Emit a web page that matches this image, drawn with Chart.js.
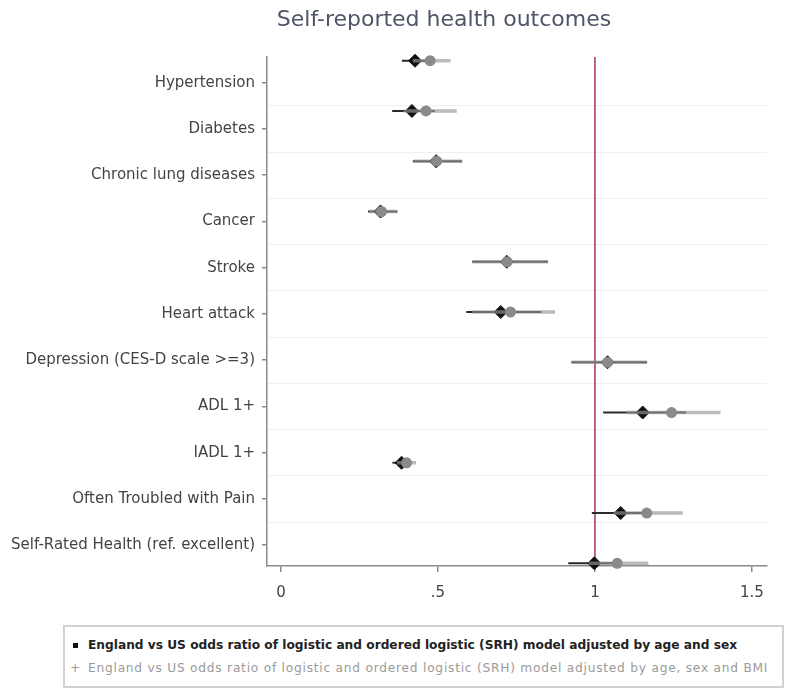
<!DOCTYPE html>
<html>
<head>
<meta charset="utf-8">
<script src="https://cdn.jsdelivr.net/npm/chart.js@4/dist/chart.umd.min.js"></script>
<style>
  html, body { margin: 0; padding: 0; background: #fff; }
  #wrap { position: relative; width: 785px; height: 693px; overflow: hidden; }
  #legend {
    position: absolute; left: 63px; top: 625px; width: 721px; height: 63px;
    box-sizing: border-box; border: 2px solid #d2d2d2; background: #fff;
    font-family: "DejaVu Sans", sans-serif; font-size: 12.2px;
  }
  .row { position: absolute; left: 0; white-space: nowrap; line-height: 14px; }
  .row1 { top: 11px; font-weight: bold; color: #222; }
  .row2 { top: 34px; color: #9a9a9a; letter-spacing: 0.77px; }
  .mk { display: inline-block; width: 20px; text-align: center; margin-left: 0px; margin-right: 3px; letter-spacing: 0; }
  .sq { display: inline-block; width: 5px; height: 5px; background: #111; vertical-align: middle; }
</style>
</head>
<body>
<div id="wrap">
  <canvas id="c"></canvas>
  <div id="legend">
    <div class="row row1"><span class="mk"><span class="sq"></span></span>England vs US odds ratio of logistic and ordered logistic (SRH) model adjusted by age and sex</div>
    <div class="row row2"><span class="mk">+</span>England vs US odds ratio of logistic and ordered logistic (SRH) model adjusted by age, sex and BMI</div>
  </div>
</div>
<script>
const categories = [
  'Hypertension', 'Diabetes', 'Chronic lung diseases', 'Cancer', 'Stroke',
  'Heart attack', 'Depression (CES-D scale >=3)', 'ADL 1+', 'IADL 1+',
  'Often Troubled with Pain', 'Self-Rated Health (ref. excellent)'
];
// Model adjusted by age and sex
const orAgeSex  = [0.427, 0.417, 0.494, 0.317, 0.719, 0.700, 1.040, 1.152, 0.384, 1.082, 0.998];
const loAgeSex  = [0.385, 0.354, 0.420, 0.277, 0.609, 0.590, 0.925, 1.026, 0.355, 0.990, 0.915];
const hiAgeSex  = [0.475, 0.490, 0.577, 0.370, 0.850, 0.830, 1.166, 1.290, 0.415, 1.180, 1.085];
// Model adjusted by age, sex and BMI
const orAgeSexBmi = [0.475, 0.462, 0.496, 0.320, 0.720, 0.731, 1.040, 1.244, 0.400, 1.165, 1.071];
const loAgeSexBmi = [0.420, 0.390, 0.422, 0.280, 0.610, 0.610, 0.925, 1.100, 0.370, 1.060, 0.980];
const hiAgeSexBmi = [0.540, 0.560, 0.577, 0.372, 0.850, 0.873, 1.166, 1.400, 0.430, 1.280, 1.170];
const xTickValues = [0, 0.5, 1, 1.5];
const xTickLabels = ['0', '.5', '1', '1.5'];
const referenceValue = 1;

const FONT = '"DejaVu Sans", sans-serif';
const rowPos = categories.map((c, i) => i + 1);

function ciSegments(lo, hi) {
  const out = [];
  rowPos.forEach((p, i) => {
    out.push({ x: lo[i], y: p }, { x: hi[i], y: p }, { x: null, y: null });
  });
  return out;
}
function points(v) { return rowPos.map((p, i) => ({ x: v[i], y: p })); }

const PT_MIN = 0.926, PT_MAX = 11.054;   // point rows scale
const LB_MIN = 0.444, LB_MAX = 11.45;    // label rows scale

new Chart(document.getElementById('c'), {
  type: 'scatter',
  data: {
    datasets: [
      {
        type: 'line', label: 'ref', order: 6, yAxisID: 'yp',
        data: [{ x: referenceValue, y: PT_MIN }, { x: referenceValue, y: PT_MAX }],
        borderColor: '#a8344a', borderWidth: 1.5, pointRadius: 0, clip: false
      },
      {
        type: 'line', label: 'ciA', order: 5, yAxisID: 'yp',
        data: ciSegments(loAgeSex, hiAgeSex), spanGaps: false,
        borderColor: '#2a2a2a', borderWidth: 2, pointRadius: 0, clip: false
      },
      {
        label: 'A', order: 4, yAxisID: 'yp', data: points(orAgeSex),
        pointStyle: 'rectRot', pointRadius: 6.5, backgroundColor: '#111', borderColor: '#111',
        borderWidth: 1, clip: false
      },
      {
        type: 'line', label: 'ciB', order: 3, yAxisID: 'yp',
        data: ciSegments(loAgeSexBmi, hiAgeSexBmi), spanGaps: false,
        borderColor: 'rgba(150,150,150,0.65)', borderWidth: 3.5, pointRadius: 0, clip: false
      },
      {
        label: 'B', order: 2, yAxisID: 'yp', data: points(orAgeSexBmi),
        pointStyle: 'circle', pointRadius: 5.5, backgroundColor: '#8a8a8a', borderColor: '#8a8a8a',
        borderWidth: 0, clip: false
      }
    ]
  },
  options: {
    responsive: true, maintainAspectRatio: false, animation: false, events: [],
    // negative right padding widens the full-size title box so the title centres where the reference has it
    layout: { padding: { left: 0, right: -103, top: 0, bottom: 87 } },
    plugins: {
      legend: { display: false }, tooltip: { enabled: false },
      title: {
        display: true, text: 'Self-reported health outcomes', color: '#4f5568',
        font: { family: FONT, size: 22, weight: 'normal' },
        padding: { top: 7, bottom: 23.6 }
      }
    },
    scales: {
      x: {
        type: 'linear', position: 'bottom', min: -0.0446, max: 1.548,
        afterBuildTicks: s => { s.ticks = xTickValues.map(v => ({ value: v })); },
        afterFit: s => { s.height = 40; },
        ticks: {
          callback: v => xTickLabels[xTickValues.indexOf(v)],
          color: '#444', font: { family: FONT, size: 15 }, padding: 12, maxRotation: 0
        },
        grid: { drawOnChartArea: false, tickLength: 6, color: '#8a8a8a', lineWidth: 1.5 },
        border: { color: '#8a8a8a', width: 1.5 }
      },
      yl: {
        type: 'linear', position: 'left', reverse: true, min: LB_MIN, max: LB_MAX,
        afterBuildTicks: s => { s.ticks = rowPos.map(v => ({ value: v })); },
        afterFit: s => { s.width = 267; },
        ticks: {
          callback: v => categories[v - 1], autoSkip: false,
          color: '#444', font: { family: FONT, size: 15 }, padding: 7
        },
        grid: { drawOnChartArea: false, tickLength: 5, color: '#8a8a8a', lineWidth: 1.5 },
        border: { color: '#8a8a8a', width: 1.5 }
      },
      yg: {
        type: 'linear', position: 'right', reverse: true, min: LB_MIN, max: LB_MAX,
        afterBuildTicks: s => { s.ticks = rowPos.slice(0, -1).map(v => ({ value: v + 0.5 })); },
        afterFit: s => { s.width = 121; },
        ticks: { display: false },
        grid: { drawTicks: false, color: '#efefef', lineWidth: 1 },
        border: { display: false }
      },
      yp: {
        type: 'linear', display: false, reverse: true, min: PT_MIN, max: PT_MAX
      }
    }
  }
});
</script>
</body>
</html>
